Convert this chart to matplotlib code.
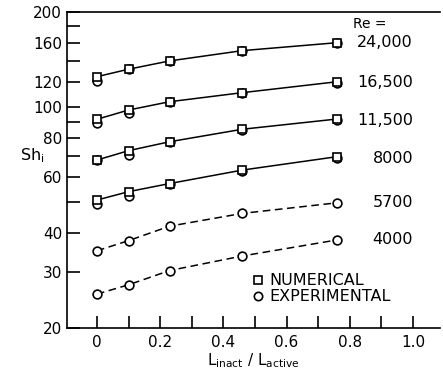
import numpy as np
import matplotlib.pyplot as plt
from matplotlib.ticker import FixedLocator, NullFormatter, FixedFormatter
from matplotlib.lines import Line2D

plt.rcParams['font.family'] = ['DejaVu Sans']

######data######
x = [0.0, 0.1, 0.23, 0.46, 0.76]
re_labels = ['24,000', '16,500', '11,500', '8000', '5700', '4000']

num_24000 = [124.8, 131.8, 140.0, 150.9, 159.9]
num_16500 = [91.5, 97.9, 104.0, 111.1, 120.3]
num_11500 = [68.0, 72.8, 77.7, 85.1, 91.7]
num_8000 = [50.8, 54.0, 57.3, 63.2, 69.7]

exp_24000 = [121.2, 131.8, 140.0, 150.9, 159.9]
exp_16500 = [88.9, 95.7, 103.5, 110.5, 119.5]
exp_11500 = [68.0, 70.5, 77.7, 84.8, 91.0]
exp_8000 = [49.4, 52.4, 57.0, 63.0, 69.0]
exp_5700 = [35.1, 37.8, 42.0, 46.1, 49.8]
exp_4000 = [25.6, 27.4, 30.4, 33.8, 38.0]

y_major = [20, 30, 40, 60, 80, 100, 120, 160, 200]
y_minor = [50, 70, 90, 140, 180]
x_major = [0, 0.2, 0.4, 0.6, 0.8, 1.0]
x_minor = [0.1, 0.3, 0.5, 0.7, 0.9]

fig = plt.figure(figsize=(4.43, 3.74), dpi=100)
ax = fig.add_axes([0.151, 0.123, 0.842, 0.845])

numerical = [num_24000, num_16500, num_11500, num_8000]
experimental = [exp_24000, exp_16500, exp_11500, exp_8000, exp_5700, exp_4000]

ms = 6.3
for i, e in enumerate(experimental):
    if i < 4:
        ax.plot(x, numerical[i], '-', color='black', lw=1.1)
    else:
        ax.plot(x, e, '--', color='black', lw=1.1, dashes=(5, 3))
    ax.plot(x, e, 'o', mfc='white', mec='black', mew=1.2, ms=ms)
for n in numerical:
    ax.plot(x, n, 's', mfc='white', mec='black', mew=1.2, ms=ms - 0.6)

# Re labels at the right of each curve
for lab, e in zip(re_labels, experimental):
    ax.text(1.0, e[-1], lab, ha='right', va='center', fontsize=11.5)
ax.text(0.81, 183, 'Re =', ha='left', va='center', fontsize=10)

ax.set_yscale('log')
ax.set_ylim(20, 200)
ax.set_xlim(-0.095, 1.085)

ax.yaxis.set_major_locator(FixedLocator(y_major))
ax.yaxis.set_major_formatter(FixedFormatter([str(v) for v in y_major]))
ax.yaxis.set_minor_locator(FixedLocator(y_minor))
ax.yaxis.set_minor_formatter(NullFormatter())
ax.xaxis.set_major_locator(FixedLocator(x_major))
ax.xaxis.set_major_formatter(FixedFormatter(['0', '0.2', '0.4', '0.6', '0.8', '1.0']))
ax.xaxis.set_minor_locator(FixedLocator(x_minor))

ax.tick_params(which='both', direction='in', length=9, width=1.2, labelsize=11)
ax.tick_params(axis='x', pad=5)
ax.spines['right'].set_visible(False)
for s in ['left', 'bottom', 'top']:
    ax.spines[s].set_linewidth(1.2)

ax.set_ylabel(r'Sh$_\mathregular{i}$', rotation=0, fontsize=11.5, va='center')
ax.yaxis.set_label_coords(-0.093, 0.545)
ax.set_xlabel(r'L$_\mathregular{inact}$ / L$_\mathregular{active}$', fontsize=11, labelpad=1)

handles = [Line2D([], [], ls='', marker='s', mfc='white', mec='black', mew=1.2, ms=6),
           Line2D([], [], ls='', marker='o', mfc='white', mec='black', mew=1.2, ms=6)]
ax.legend(handles, ['NUMERICAL', 'EXPERIMENTAL'], loc='lower left',
          bbox_to_anchor=(0.47, 0.05), frameon=False, fontsize=11.5,
          handletextpad=0.2, handlelength=1.0, labelspacing=0.05, borderpad=0)

fig.savefig('out.png', dpi=100)
